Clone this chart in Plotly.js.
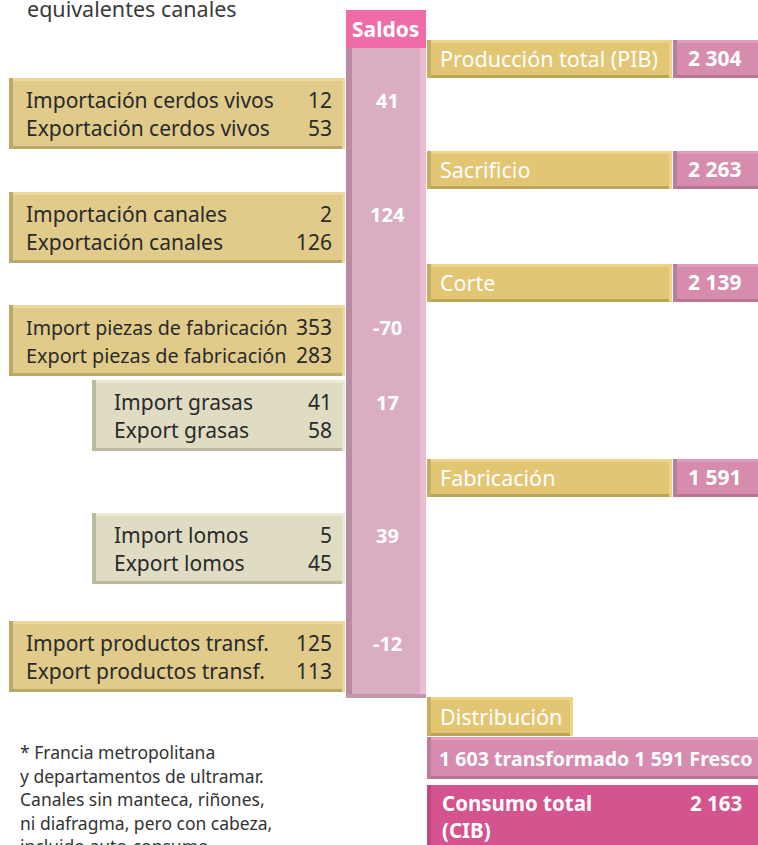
<!DOCTYPE html>
<html>
<head>
<meta charset="utf-8">
<script src="https://cdn.plot.ly/plotly-3.0.1.min.js"></script>
<style>html,body{margin:0;padding:0;background:#fff;}#chart{width:758px;height:845px;}</style>
</head>
<body>
<div id="chart"></div>
<script>
// ---- data ----
const importLabels = ["Importación cerdos vivos","Importación canales","Import piezas de fabricación","Import grasas","Import lomos","Import productos transf."];
const exportLabels = ["Exportación cerdos vivos","Exportación canales","Export piezas de fabricación","Export grasas","Export lomos","Export productos transf."];
const importValues = [12, 2, 353, 41, 5, 125];
const exportValues = [53, 126, 283, 58, 45, 113];
const saldos = [41, 124, -70, 17, 39, -12];
const stageLabels = ["Producción total (PIB)","Sacrificio","Corte","Fabricación"];
const stageValues = [2304, 2263, 2139, 1591];
const distribLabel = "Distribución";
const transformado = 1603;
const fresco = 1591;
const consumoLabel = "Consumo total<br>(CIB)";
const consumoTotal = 2163;
const headerText = "equivalentes canales";
const saldosTitle = "Saldos";
const footnote = ["* Francia metropolitana","y departamentos de ultramar.","Canales sin manteca, riñones,","ni diafragma, pero con cabeza,","incluido auto-consumo."];

// ---- layout geometry (positions, not data) ----
const leftTop = [78, 192, 305, 380, 513, 621];
const leftX0 = [9, 9, 9, 92, 92, 9];
const leftTextX = [24, 24, 24, 112, 112, 24];
const leftLight = [false, false, false, true, true, false];
const leftH = 71, leftX1 = 345;
const stageTop = [40, 151, 264, 459];
const stageH = 38;
const W = 758, H = 845;
const FAMILY = "Noto Sans, Open Sans, sans-serif";

const fmt = v => String(v).replace(/\B(?=(\d{3})+(?!\d))/g, " ");
const ctx = document.createElement("canvas").getContext("2d");
function fitSize(t, size, bold, maxW){
  ctx.font = (bold?"bold ":"") + size + "px 'Noto Sans'";
  const w = ctx.measureText(t).width;
  return w > maxW ? Math.floor(size*maxW/w*10)/10 : size;
}

const shapes = [];
const ann = [];
function rect(x0,y0,x1,y1,fill){
  shapes.push({type:"rect",xref:"x",yref:"y",x0,y0,x1,y1,fillcolor:fill,line:{width:0},layer:"above"});
}
function bevel(x0,y0,x1,y1,fill,light,dark,leftDark){
  rect(x0,y0,x1,y1,fill);
  rect(x0,y0,x1,y0+3,light);
  rect(x0,y1-3,x1,y1,dark);
  rect(x0,y0,x0+4,y1,leftDark);
  rect(x1-3,y0,x1,y1,light);
}
function txt(x,y,t,size,color,anchor,bold,opts){
  opts = opts||{};
  const a = {xref:"x",yref:"y",x,y,text:t,showarrow:false,xanchor:anchor,yanchor:"middle",
    font:{size,color,family:FAMILY,weight:bold?"bold":"normal"},align:"left"};
  if(opts.paper){ a.xref="paper"; a.yref="paper"; a.x=x/W; a.y=1-y/H; }
  ann.push(a);
}

// pink saldo column
rect(346,48,426,698,"#dbadc3");
rect(346,48,352,698,"#b98ba1");
rect(420,48,426,698,"#ebbcd2");
rect(346,694,426,698,"#c597ad");
rect(346,10,426,48,"#ef6ca8");
txt(385,29,saldosTitle,21,"#ffffff","center",true);

// left import/export boxes
for(let i=0;i<importLabels.length;i++){
  const y0=leftTop[i], y1=y0+leftH, x0=leftX0[i];
  if(leftLight[i]) bevel(x0,y0,leftX1,y1,"#dfdcc3","#ebe8d3","#bcb9a1","#bcb9a1");
  else bevel(x0,y0,leftX1,y1,"#e1cb8a","#eed899","#bba86d","#bba86d");
  const tx = leftTextX[i];
  txt(tx,y0+22,importLabels[i],fitSize(importLabels[i],21,false,262),"#2a2a2a","left",false);
  txt(tx,y0+50,exportLabels[i],fitSize(exportLabels[i],21,false,262),"#2a2a2a","left",false);
  txt(334,y0+22,fmt(importValues[i]),21,"#2a2a2a","right",false);
  txt(334,y0+50,fmt(exportValues[i]),21,"#2a2a2a","right",false);
  txt(387,y0+22,fmt(saldos[i]),20,"#ffffff","center",true);
}

// right stage boxes
for(let i=0;i<stageLabels.length;i++){
  const y0=stageTop[i], y1=y0+stageH;
  bevel(427,y0,672,y1,"#e2c673","#eed488","#bba558","#c9ad60");
  bevel(673,y0,762,y1,"#d68cad","#e09dbb","#b77592","#be7c98");
  txt(438,y0+18,stageLabels[i],21.5,"#ffffff","left",false);
  txt(715,y0+18,fmt(stageValues[i]),21,"#ffffff","center",true);
}

// distribution
bevel(427,697,573,736,"#e2c673","#eed488","#bba558","#c9ad60");
txt(438,716,distribLabel,21.5,"#ffffff","left",false);
bevel(427,737,762,779,"#d78bae","#e39fbf","#b77593","#be7c98");
const frescoText = fmt(transformado)+" transformado "+fmt(fresco)+" Fresco";
txt(437,758,frescoText,fitSize(frescoText,20,true,314),"#ffffff","left",true);
rect(427,785,762,850,"#d4548e");
rect(427,785,431,850,"#c04880");
txt(440,816,consumoLabel,20.5,"#ffffff","left",true);
txt(744,803,fmt(consumoTotal),20.5,"#ffffff","right",true);

// header + footnote
txt(25,9,headerText,21.5,"#3a3a3a","left",false,{paper:true});
footnote.forEach((l,i)=>txt(18,752+i*23.5,l,17.5,"#333333","left",false,{paper:true}));

const layout = {
  width:W,height:H,margin:{l:0,r:0,t:0,b:0},
  paper_bgcolor:"#ffffff",plot_bgcolor:"#ffffff",showlegend:false,
  xaxis:{range:[0,W],visible:false,fixedrange:true},
  yaxis:{range:[H,0],visible:false,fixedrange:true},
  shapes, annotations:ann
};
Plotly.newPlot("chart",[{x:[],y:[],type:"scatter",mode:"markers"}],layout,{displayModeBar:false,staticPlot:true});
</script>
</body>
</html>
